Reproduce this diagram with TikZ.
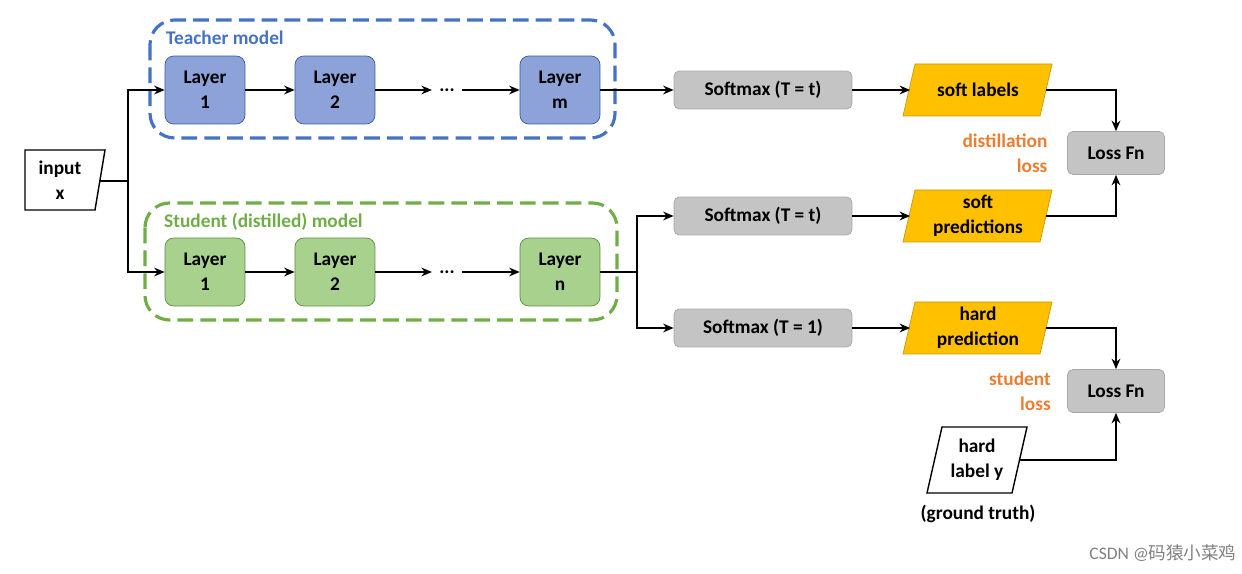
\documentclass[tikz,border=0pt]{standalone}
\usepackage{fontspec}
\setmainfont{Carlito}
\newfontfamily\cjk{Noto Sans CJK SC}
\usetikzlibrary{arrows.meta}
\definecolor{tblue}{HTML}{4472C4}
\definecolor{tgreen}{HTML}{70AD47}
\definecolor{lblue}{HTML}{8EA2DA}
\definecolor{lgreen}{HTML}{A9D18E}
\definecolor{gbox}{HTML}{C4C4C4}
\definecolor{orng}{HTML}{FFC000}
\definecolor{otext}{HTML}{ED7D31}
\begin{document}
\begin{tikzpicture}[x=0.02cm,y=-0.02cm,
  every node/.style={font=\fontsize{11}{14}\selectfont\bfseries},
  arr/.style={-{Stealth[length=6pt,width=5pt]},line width=0.8pt},
  ln/.style={line width=0.8pt},
  tl/.style={draw=tblue!80!black,fill=lblue,rounded corners=5pt,minimum width=1.6cm,minimum height=1.36cm,align=center},
  sl/.style={draw=tgreen!80!black,fill=lgreen,rounded corners=5pt,minimum width=1.6cm,minimum height=1.36cm,align=center},
  sm/.style={draw=gray!70,fill=gbox,rounded corners=3pt,minimum width=3.56cm,minimum height=0.76cm},
  pgf/.style={draw=orng!80!black,fill=orng},
  lf/.style={draw=gray!70,fill=gbox,rounded corners=3pt,minimum width=1.94cm,minimum height=0.86cm},
  ol/.style={text=otext,align=right},
  dsh/.style={dash pattern=on 9pt off 4pt,line width=1.8pt,rounded corners=14pt}]
\useasboundingbox (0,0) rectangle (1242,574);
% input
\draw[ln,fill=white] (25,150) -- (105,150) -- (95,210) -- (25,210) -- cycle;
\node[align=center] (in) at (60,180) {input\\x};
\coordinate (inr) at (100,181);
\coordinate (j) at (128,181);
% boxes
\draw[tblue,dsh] (150,20) rectangle (615,138);
\node[text=tblue,anchor=west] (tm) at (160,38) {Teacher model};
\draw[tgreen,dsh] (145,203) rectangle (617,320);
\node[text=tgreen,anchor=west] (stm) at (158,222) {Student (distilled) model};
% teacher
\node[tl] (t1) at (205,90) {Layer\\1};
\node[tl] (t2) at (335,90) {Layer\\2};
\node[minimum height=0.3cm,inner sep=4pt] (td) at (447,90) {...};
\node[tl] (tm1) at (560,90) {Layer\\m};
% student
\node[sl] (s1) at (205,272) {Layer\\1};
\node[sl] (s2) at (335,272) {Layer\\2};
\node[minimum height=0.3cm,inner sep=4pt] (sd) at (447,272) {...};
\node[sl] (sn) at (560,272) {Layer\\n};
% softmax
\node[sm] (sm1) at (763,90) {Softmax (T = t)};
\node[sm] (sm2) at (763,216) {Softmax (T = t)};
\node[sm] (sm3) at (763,328) {Softmax (T = 1)};
% parallelograms
\draw[pgf] (915,64) -- (1052,64) -- (1040,116) -- (903,116) -- cycle;
\node (p1) at (978,90) [minimum width=2.7cm,minimum height=1.04cm] {soft labels};
\draw[pgf] (915,190) -- (1052,190) -- (1040,242) -- (903,242) -- cycle;
\node[align=center,minimum width=2.7cm,minimum height=1.04cm] (p2) at (978,216) {soft\\predictions};
\draw[pgf] (915,302) -- (1052,302) -- (1040,354) -- (903,354) -- cycle;
\node[align=center,minimum width=2.7cm,minimum height=1.04cm] (p3) at (978,328) {hard\\prediction};
\draw[ln,fill=white] (942,427) -- (1027,427) -- (1012,493) -- (927,493) -- cycle;
\node[align=center,minimum width=1.7cm] (hl) at (977,460) {hard\\label y};
\node (gt) at (978,514) {(ground truth)};
\node[lf] (l1) at (1116,153) {Loss Fn};
\node[lf] (l2) at (1116,391) {Loss Fn};
\node[ol] (dl) at (1005,153) {distillation\\loss};
\node[ol] (stl) at (1020,391) {student\\loss};
\node[font=\fontsize{10}{12}\selectfont,text=gray] (wm) at (1163,553) {CSDN @{\cjk 码猿小菜鸡}};
% connectors
\draw[ln] (inr) -- (j);
\draw[arr] (j) |- (t1.west);
\draw[arr] (j) |- (s1.west);
\draw[arr] (t1) -- (t2);
\draw[arr] (t2.east) -- (td.west);
\draw[arr] (td.east) -- (tm1.west);
\draw[arr] (s1) -- (s2);
\draw[arr] (s2.east) -- (sd.west);
\draw[arr] (sd.east) -- (sn.west);
\draw[arr] (tm1) -- (sm1);
\coordinate (k) at (637,272);
\draw[ln] (sn.east) -- (k);
\draw[arr] (k) |- (sm2.west);
\draw[arr] (k) |- (sm3.west);
\draw[arr] (sm1) -- (p1);
\draw[arr] (sm2) -- (p2);
\draw[arr] (sm3) -- (p3);
\draw[arr] (p1.east) -| (l1.north);
\draw[arr] (p2.east) -| (l1.south);
\draw[arr] (p3.east) -| (l2.north);
\draw[arr] (hl.east) -| (l2.south);
\end{tikzpicture}
\end{document}
